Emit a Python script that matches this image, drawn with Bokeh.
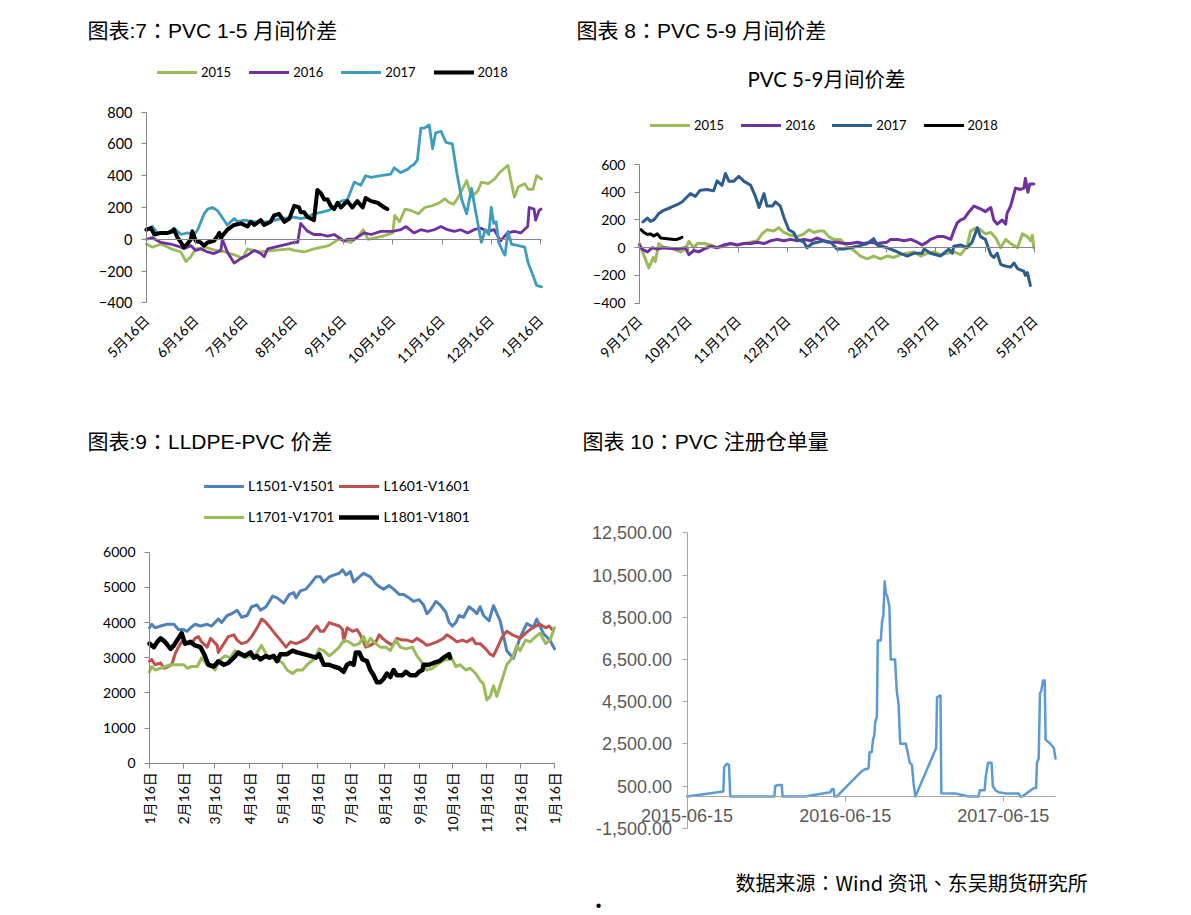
import math
from bokeh.plotting import figure
from bokeh.models import (Range1d, FixedTicker, LinearAxis, Legend, LegendItem, Label,
                          NumeralTickFormatter)
from bokeh.layouts import row, column
from bokeh.embed import file_html
from bokeh.resources import INLINE

# ---------------- data ----------------
# Chart 7: PVC 1-5 spread, x = months after 5/16
c1_labels = ["5月16日", "6月16日", "7月16日", "8月16日", "9月16日", "10月16日", "11月16日", "12月16日", "1月16日"]
c1_x15 = [0, 0.12, 0.3, 0.5, 0.7, 0.8, 0.9, 1.0, 1.2, 1.4, 1.6, 1.8, 1.95, 2.05, 2.3, 2.6, 2.9, 3.0, 3.2, 3.4,
          3.7, 3.9, 4.0, 4.15, 4.3, 4.4, 4.5, 4.8, 5.0, 5.04, 5.14, 5.25, 5.38, 5.52, 5.65, 5.79, 5.92, 6.06,
          6.13, 6.23, 6.29, 6.4, 6.5, 6.6, 6.73, 6.8, 6.94, 7.07, 7.17, 7.3, 7.34, 7.4, 7.47, 7.55, 7.68, 7.75,
          7.85, 7.92, 8.02]
c1_y15 = [-30, -50, -30, -60, -80, -140, -110, -60, -50, -70, -80, -100, -120, -60, -80, -70, -60, -70, -80, -60,
          -40, 0, -10, -20, 20, 60, 0, 20, 40, 150, 110, 190, 180, 160, 200, 210, 225, 255,
          235, 220, 245, 305, 370, 265, 305, 360, 350, 380, 420, 455, 465, 370, 265, 330, 350, 315,
          315, 400, 380]
c1_x16 = [0, 0.12, 0.29, 0.49, 0.7, 0.76, 0.9, 1.0, 1.1, 1.24, 1.37, 1.51, 1.54, 1.64, 1.78, 1.92, 2.05, 2.19, 2.32,
          2.39, 2.46, 2.73, 2.86, 3.0, 3.07, 3.13, 3.27, 3.4, 3.54, 3.68, 3.81, 4.01, 4.08, 4.22, 4.42, 4.56, 4.76,
          5.0, 5.16, 5.27, 5.43, 5.57, 5.71, 5.84, 5.98, 6.11, 6.25, 6.38, 6.52, 6.65, 6.79, 6.92, 7.06, 7.19, 7.33,
          7.47, 7.6, 7.74, 7.77, 7.87, 7.9, 7.97, 8.01]
c1_y16 = [0, 10, -20, -30, -50, -60, -40, -70, -60, -80, -90, -70, 0, -80, -150, -120, -100, -70, -90,
          -110, -60, -40, -30, -20, -20, 100, 50, 30, 30, 20, 30, -10, 0, 0, 40, 30, 50,
          50, 60, 80, 40, 60, 50, 60, 80, 60, 50, 60, 40, 60, 70, 50, 60, -10, 40,
          50, 40, 80, 200, 190, 120, 180, 190]
c1_x17 = [0, 0.12, 0.22, 0.43, 0.56, 0.7, 0.83, 0.97, 1.04, 1.17, 1.24, 1.34, 1.44, 1.51, 1.64, 1.78, 1.85, 1.98,
          2.19, 2.46, 2.73, 3.0, 3.13, 3.27, 3.4, 3.54, 3.68, 3.81, 3.95, 4.08, 4.22, 4.35, 4.45, 4.56, 4.76, 4.96,
          5.03, 5.16, 5.3, 5.37, 5.43, 5.5, 5.57, 5.64, 5.74, 5.81, 5.87, 5.98, 6.08, 6.21, 6.3, 6.4, 6.5, 6.6,
          6.68, 6.8, 6.88, 6.95, 7.0, 7.05, 7.1, 7.15, 7.24, 7.28, 7.34, 7.41, 7.55, 7.68, 7.75, 7.85, 7.92, 8.02]
c1_y17 = [60, 80, 40, 40, 70, 30, 40, 30, 60, 160, 190, 200, 180, 150, 90, 130, 110, 120,
          110, 110, 130, 140, 130, 140, 160, 170, 180, 200, 240, 250, 360, 340, 400, 390, 400, 410,
          450, 420, 440, 460, 470, 500, 700, 700, 720, 570, 670, 680, 610, 600, 420, 250, 160, 320,
          180, -20, 60, 30, 200, 100, 110, -20, -80, -100, 50, -30, -40, -50, -150, -230, -290, -300]
c1_x18 = [0, 0.09, 0.16, 0.29, 0.43, 0.53, 0.56, 0.63, 0.7, 0.76, 0.83, 0.9, 0.93, 1.0, 1.1, 1.17, 1.24, 1.37,
          1.44, 1.48, 1.51, 1.64, 1.78, 1.92, 2.05, 2.12, 2.19, 2.32, 2.39, 2.52, 2.59, 2.69, 2.8, 2.9, 3.0, 3.1,
          3.13, 3.2, 3.27, 3.4, 3.47, 3.54, 3.61, 3.68, 3.74, 3.81, 3.88, 3.95, 4.01, 4.08, 4.18, 4.28, 4.39,
          4.45, 4.56, 4.69, 4.83, 4.89]
c1_y18 = [60, 70, 30, 40, 40, 50, 60, 10, -20, -50, -30, 0, 50, -10, -20, -40, -20, -10,
          20, 40, 10, 60, 90, 100, 80, 110, 90, 120, 90, 110, 150, 160, 110, 130, 210, 200,
          170, 170, 140, 120, 310, 290, 250, 250, 210, 190, 230, 200, 220, 240, 200, 240, 200,
          260, 240, 230, 200, 190]

# Chart 8: PVC 5-9 spread, x = months after 9/17
c2_labels = ["9月17日", "10月17日", "11月17日", "12月17日", "1月17日", "2月17日", "3月17日", "4月17日", "5月17日"]
c2_x15 = [0, 0.09, 0.19, 0.28, 0.32, 0.39, 0.49, 0.7, 0.83, 0.93, 1.0, 1.1, 1.17, 1.3, 1.44, 1.57, 1.71, 1.84,
          1.98, 2.11, 2.25, 2.38, 2.48, 2.58, 2.72, 2.82, 2.92, 3.06, 3.19, 3.33, 3.43, 3.53, 3.63, 3.73, 3.83,
          3.93, 4.07, 4.2, 4.34, 4.47, 4.61, 4.74, 4.88, 5.01, 5.15, 5.28, 5.42, 5.55, 5.69, 5.82, 5.96, 6.09,
          6.23, 6.36, 6.5, 6.63, 6.7, 6.8, 6.9, 7.0, 7.11, 7.21, 7.31, 7.41, 7.51, 7.65, 7.75, 7.85, 7.92, 7.95, 7.98]
c2_y15 = [30, -55, -145, -70, -100, 30, 0, -10, -30, -10, 45, 0, 30, 30, 20, 0, 10, 30,
          20, 30, 40, 50, 100, 130, 120, 145, 110, 90, 80, 100, 130, 110, 120, 120, 80,
          60, 60, 10, -20, -60, -80, -60, -80, -60, -70, -50, -40, -30, -60, -40, -30, -50,
          -40, -30, -50, 10, 120, 140, 130, 100, 110, 70, 0, 60, 30, 0, 100, 80, 50, 90, 0]
c2_x16 = [0, 0.05, 0.16, 0.26, 0.36, 0.49, 0.76, 0.93, 1.0, 1.1, 1.2, 1.3, 1.44, 1.57, 1.71, 1.84, 1.98, 2.11,
          2.25, 2.38, 2.52, 2.65, 2.79, 2.92, 3.06, 3.19, 3.33, 3.46, 3.6, 3.8, 4.0, 4.14, 4.27, 4.41, 4.54, 4.68,
          4.81, 5.01, 5.08, 5.22, 5.35, 5.49, 5.62, 5.72, 5.82, 5.89, 6.03, 6.16, 6.3, 6.36, 6.43, 6.5, 6.57,
          6.67, 6.77, 6.9, 7.0, 7.11, 7.17, 7.24, 7.34, 7.41, 7.44, 7.51, 7.61, 7.71, 7.78, 7.81, 7.86, 7.9, 7.98]
c2_y16 = [20, -10, -30, 0, -10, 0, -10, 0, -50, -20, -30, -10, 10, 0, 20, 30, 20, 30,
          30, 40, 30, 50, 60, 50, 60, 50, 60, 50, 70, 40, 40, 30, 30, 40, 30, 40,
          30, 40, 60, 60, 50, 60, 40, 20, 40, 60, 80, 80, 60, 120, 180, 200, 210,
          260, 300, 280, 260, 290, 200, 170, 200, 170, 250, 300, 430, 420, 430, 500, 400, 460, 460]
c2_x17 = [0.07, 0.16, 0.22, 0.29, 0.39, 0.49, 0.63, 0.76, 0.86, 0.96, 1.03, 1.13, 1.23, 1.37, 1.5, 1.57, 1.67,
          1.74, 1.81, 1.91, 2.01, 2.11, 2.25, 2.35, 2.42, 2.52, 2.58, 2.69, 2.75, 2.85, 2.92, 3.02, 3.12, 3.19,
          3.33, 3.39, 3.5, 3.6, 3.73, 3.87, 4.0, 4.14, 4.27, 4.41, 4.61, 4.74, 4.81, 5.01, 5.15, 5.28, 5.42,
          5.55, 5.72, 5.76, 5.89, 6.09, 6.16, 6.26, 6.33, 6.36, 6.5, 6.63, 6.73, 6.84, 6.9, 7.0, 7.11, 7.17,
          7.24, 7.31, 7.38, 7.51, 7.58, 7.65, 7.78, 7.81, 7.85, 7.91]
c2_y17 = [186, 214, 190, 200, 246, 270, 290, 310, 330, 366, 390, 370, 415, 420, 410, 482, 450,
          535, 480, 480, 515, 480, 450, 366, 290, 390, 300, 300, 330, 300, 222, 130, 110, 60,
          40, 0, 30, 40, 50, 40, -10, -10, 0, 10, 30, 65, 20, 0, -20, -40, -60,
          -40, -40, -10, -40, -60, -40, -10, -40, 10, 20, 0, 40, 145, 80, 60, -50, -70,
          -40, -120, -130, -140, -110, -150, -170, -200, -180, -272]
c2_x18 = [0.03, 0.09, 0.16, 0.22, 0.29, 0.36, 0.43, 0.56, 0.7, 0.76, 0.83, 0.86]
c2_y18 = [130, 110, 95, 100, 85, 100, 70, 65, 60, 60, 70, 75]

# Chart 9: LLDPE-PVC spread, x = days after 1/16
c3_tick_days = [0, 31, 59, 90, 120, 151, 181, 212, 243, 273, 304, 334, 365]
c3_labels = ["1月16日", "2月16日", "3月16日", "4月16日", "5月16日", "6月16日", "7月16日", "8月16日",
             "9月16日", "10月16日", "11月16日", "12月16日", "1月16日"]
c3_x1501 = [0, 2, 5, 10, 16, 22, 26, 31, 34, 37, 41, 46, 52, 56, 59, 62, 65, 70, 74, 79, 83, 88, 92, 97, 100,
            105, 111, 115, 121, 126, 130, 132, 136, 141, 145, 150, 154, 157, 162, 166, 171, 174, 177, 181, 184,
            189, 193, 199, 204, 208, 211, 216, 220, 225, 229, 234, 238, 243, 247, 250, 253, 258, 262, 267, 270,
            273, 276, 279, 283, 288, 292, 295, 298, 301, 306, 310, 316, 322, 328, 334, 340, 346, 349, 355,
            361, 365]
c3_y1501 = [3850, 3950, 3850, 3900, 3950, 3950, 3800, 3800, 3750, 3850, 3950, 3900, 3950, 3900, 4000, 4100,
            4000, 4200, 4250, 4350, 4150, 4200, 4450, 4500, 4350, 4450, 4750, 4700, 4550, 4800, 4850, 4700,
            4900, 4950, 5100, 5300, 5300, 5150, 5300, 5350, 5400, 5500, 5350, 5450, 5150, 5300, 5400, 5300,
            5100, 5000, 4950, 5050, 4950, 4800, 4800, 4700, 4600, 4650, 4500, 4250, 4350, 4600, 4500, 4300,
            4000, 3900, 4000, 4200, 4150, 4450, 4350, 4250, 4450, 4200, 4050, 4480, 4050, 3200, 2980, 3580,
            3970, 3870, 4100, 3690, 3490, 3250]
c3_x1601 = [0, 2, 5, 10, 13, 17, 20, 23, 26, 29, 34, 38, 41, 44, 47, 52, 55, 58, 61, 62, 67, 71, 76, 79, 83,
            88, 92, 97, 101, 105, 109, 114, 118, 123, 127, 132, 136, 142, 148, 151, 154, 157, 162, 166, 171,
            174, 175, 178, 183, 187, 190, 195, 199, 204, 207, 210, 214, 219, 223, 228, 232, 237, 241, 246, 250,
            255, 259, 265, 268, 273, 277, 282, 286, 291, 294, 298, 303, 307, 310, 313, 318, 322, 327, 331, 334,
            339, 343, 348, 352, 357, 360, 363]
c3_y1601 = [2900, 2950, 2800, 2850, 2700, 2750, 2800, 3100, 3300, 3450, 3400, 3400, 3550, 3600, 3450, 3300,
            3550, 3450, 3350, 3150, 3400, 3600, 3650, 3500, 3400, 3450, 3600, 3850, 4100, 4000, 3850, 3650,
            3500, 3300, 3450, 3400, 3450, 3550, 3800, 3900, 3750, 3750, 4000, 3950, 3900, 3800, 3450, 3850,
            3750, 3800, 3650, 3300, 3350, 3450, 3650, 3550, 3450, 3350, 3550, 3500, 3500, 3450, 3550, 3450,
            3350, 3400, 3450, 3550, 3650, 3550, 3450, 3500, 3450, 3550, 3400, 3400, 3250, 3100, 3050, 3250,
            3600, 3750, 3650, 3600, 3550, 3700, 3800, 3900, 3950, 3850, 3900, 3800]
c3_x1701 = [0, 2, 5, 10, 14, 19, 25, 31, 34, 38, 43, 47, 52, 56, 59, 64, 68, 73, 77, 82, 86, 91, 95, 101, 106,
            111, 115, 120, 124, 129, 133, 138, 142, 148, 153, 157, 162, 166, 171, 175, 180, 184, 189, 193, 196,
            199, 204, 208, 213, 217, 222, 226, 231, 237, 241, 246, 250, 255, 259, 264, 268, 273, 276, 280, 285,
            289, 294, 298, 301, 304, 307, 310, 313, 318, 322, 327, 331, 334, 339, 343, 348, 352, 357, 361, 365]
c3_y1701 = [2600, 2750, 2650, 2700, 2750, 2800, 2800, 2800, 2700, 2750, 2750, 3000, 2800, 2750, 2650, 2950,
            3050, 3000, 3200, 3050, 3000, 3050, 3050, 3350, 3050, 3000, 2950, 2850, 2650, 2550, 2650, 2650,
            2800, 2950, 3250, 3200, 3050, 3150, 3300, 3500, 3450, 3350, 3400, 3600, 3350, 3550, 3400, 3300,
            3300, 3200, 3500, 3300, 3250, 3300, 3050, 2850, 2650, 2700, 2800, 2900, 2950, 2950, 2750, 2800,
            2650, 2700, 2550, 2350, 2250, 1800, 1900, 2200, 1900, 2400, 2800, 3000, 3350, 3200, 3500, 3450,
            3600, 3700, 3400, 3500, 3850]
c3_x1801 = [0, 2, 4, 7, 10, 14, 19, 22, 25, 28, 29, 32, 37, 41, 46, 50, 53, 58, 62, 67, 71, 76, 80, 83, 86,
            91, 94, 97, 100, 105, 108, 112, 115, 118, 124, 129, 133, 139, 145, 150, 153, 157, 162, 166, 171,
            175, 178, 181, 184, 186, 189, 192, 196, 199, 202, 205, 208, 211, 214, 217, 220, 223, 228, 231, 235,
            240, 243, 246, 247, 252, 256, 261, 265, 270, 271]
c3_y1801 = [3400, 3350, 3300, 3450, 3550, 3450, 3250, 3350, 3500, 3650, 3700, 3400, 3450, 3350, 3300, 3050,
            2800, 2750, 2900, 2800, 2850, 3000, 3150, 3100, 3050, 3150, 3000, 3050, 2950, 3050, 3000, 3050,
            2900, 3100, 3100, 3200, 3150, 3100, 3050, 3000, 3100, 2800, 2800, 2750, 2700, 2600, 2800, 2850,
            2800, 3150, 3150, 2950, 2900, 2650, 2500, 2300, 2300, 2400, 2550, 2450, 2650, 2500, 2500, 2600,
            2500, 2500, 2600, 2650, 2800, 2800, 2850, 2900, 3000, 3100, 3000]

# Chart 10: PVC warehouse receipts, x = days after 2015-06-15
c4_tick_days = [0, 366, 731]
c4_labels = ["2015-06-15", "2016-06-15", "2017-06-15"]
c4_x = [0, 84, 86, 92, 97, 100, 202, 204, 211, 219, 221, 273, 331, 335, 339, 341, 346, 404, 412, 418, 420,
        422, 427, 430, 433, 435, 439, 441, 448, 451, 454, 457, 460, 463, 468, 471, 481, 485, 489, 493, 506,
        511, 515, 520, 524, 528, 576, 578, 586, 588, 620, 651, 674, 677, 688, 691, 696, 704, 707, 713, 721,
        736, 767, 771, 775, 802, 807, 809, 813, 816, 819, 823, 827, 829, 840, 848, 852]
c4_y = [0, 240, 1400, 1550, 1500, 0, 0, 500, 550, 550, 0, 0, 200, 350, 350, 0, 0, 1200, 1300, 1300, 1400,
        2100, 2100, 2700, 2900, 3500, 3800, 7400, 7400, 8300, 8600, 10200, 9600, 9500, 9000, 6500, 6500, 5000,
        4400, 2500, 2500, 2000, 1600, 1500, 600, 0, 2300, 4700, 4800, 160, 150, 0, 0, 300, 300, 1000, 1600,
        1600, 500, 300, 200, 150, 150, 0, 0, 400, 400, 1600, 1800, 4900, 5000, 5500, 5500, 2700, 2500, 2300, 1800]

# ---------------- styling ----------------
LAT = "Lato, 'Noto Sans CJK SC', sans-serif"
ARIAL = "'Liberation Sans', 'Noto Sans CJK TC', sans-serif"
CJK = "'Noto Sans CJK TC', sans-serif"
AX = "#868686"
GREEN, PURPLE, TEAL, NAVY = "#9BBB59", "#7030A0", "#3C9DBE", "#2E5C8E"
BLUE, RED = "#4F81BD", "#C0504D"


def pair(x, y):
    n = min(len(x), len(y))
    return list(x[:n]), list(y[:n])


class Panel:
    """A figure whose frame is its whole canvas; page pixel anchors fix the scales."""

    def __init__(self, cx, cy, w, h, xanchor, yanchor):
        self.cx, self.cy, self.w, self.h = cx, cy, w, h
        xv1, xp1, xv2, xp2 = xanchor
        sx = (xp2 - xp1) / (xv2 - xv1)
        x0 = xv1 + (cx - xp1) / sx
        x1 = xv1 + (cx + w - xp1) / sx
        yv1, yp1, yv2, yp2 = yanchor
        sy = (yp2 - yp1) / (yv2 - yv1)
        ytop = yv1 + (cy - yp1) / sy
        ybot = yv1 + (cy + h - yp1) / sy
        p = figure(width=w, height=h, x_range=Range1d(x0, x1), y_range=Range1d(ybot, ytop),
                   min_border=0, title=None, output_backend="svg", toolbar_location=None)
        p.outline_line_color = None
        p.xgrid.visible = False
        p.ygrid.visible = False
        p.background_fill_color = "white"
        p.border_fill_color = "white"
        self.p = p

    def sx(self, X):
        return X - self.cx

    def sy(self, Y):
        return self.cy + self.h - Y

    def text(self, X, Y, s, size, font, align="left", color="#000000"):
        self.p.add_layout(Label(x=self.sx(X), y=self.sy(Y), x_units="screen", y_units="screen", text=s,
                                text_font=font, text_font_size=size, text_color=color,
                                text_align=align, text_baseline="middle"))

    def legend(self, items, X, Ybottom, size, spacing, gh=14):
        lg = Legend(items=[LegendItem(label=l, renderers=[r]) for l, r in items],
                    orientation="horizontal", location=(self.sx(X), self.sy(Ybottom)),
                    padding=0, margin=0, spacing=spacing,
                    glyph_width=40, glyph_height=gh, label_height=gh, label_standoff=4,
                    border_line_color=None, background_fill_alpha=0,
                    label_text_font=LAT, label_text_font_size=size, label_text_color="#000000")
        self.p.add_layout(lg)

    def line(self, x, y, color, width):
        xx, yy = pair(x, y)
        return self.p.line(xx, yy, line_color=color, line_width=width, line_join="round", line_cap="round")


def style_axis(ax, ticks, loc, bounds, size="14px", font=LAT, color="#000000", axcol=AX, standoff=9,
               line=True, tick=True):
    ax.fixed_location = loc
    ax.bounds = bounds
    ax.ticker = FixedTicker(ticks=ticks)
    ax.axis_line_color = axcol if line else None
    ax.major_tick_line_color = axcol if tick else None
    ax.minor_tick_line_color = None
    ax.major_tick_in = 0
    ax.major_tick_out = 5 if tick else 0
    ax.major_label_standoff = standoff
    ax.major_label_text_font = font
    ax.major_label_text_font_size = size
    ax.major_label_text_color = color


def month_axes(p, labels, ymin, xend):
    ticks = list(range(len(labels)))
    xa = p.xaxis[0]
    style_axis(xa, ticks, ymin, (0, xend), standoff=15, line=False, tick=False)
    xa.major_label_overrides = {i: s for i, s in enumerate(labels)}
    xa.major_label_orientation = math.pi / 4
    za = LinearAxis()
    style_axis(za, ticks, 0, (0, xend))
    za.major_label_overrides = {i: "" for i in ticks}
    p.add_layout(za, "below")


# ---------------- chart 7 ----------------
P1 = Panel(0, 0, 570, 415, (0, 146, 8, 540), (800, 111.7, -400, 302.3))
p1 = P1.p
style_axis(p1.yaxis[0], list(range(-400, 801, 200)), 0, (-400, 800), size="14.5px")
month_axes(p1, c1_labels, -400, 8.02)
r15 = P1.line(c1_x15, c1_y15, GREEN, 2.8)
r16 = P1.line(c1_x16, c1_y16, PURPLE, 2.8)
r17 = P1.line(c1_x17, c1_y17, TEAL, 2.8)
r18 = P1.line(c1_x18, c1_y18, "#000000", 4)
P1.legend([("2015", r15), ("2016", r16), ("2017", r17), ("2018", r18)], 157, 80, "13px", 18)
P1.text(87, 30, "图表:7：PVC 1-5 月间价差", "21px", ARIAL)

# ---------------- chart 8 ----------------
P2 = Panel(570, 0, 605, 415, (0, 639, 8, 1034.3), (600, 164, -400, 302.7))
p2 = P2.p
style_axis(p2.yaxis[0], list(range(-400, 601, 200)), 0, (-400, 600))
month_axes(p2, c2_labels, -400, 8.0)
s15 = P2.line(c2_x15, c2_y15, GREEN, 3)
s16 = P2.line(c2_x16, c2_y16, PURPLE, 3)
s17 = P2.line(c2_x17, c2_y17, NAVY, 3)
s18 = P2.line(c2_x18, c2_y18, "#000000", 3)
P2.legend([("2015", s15), ("2016", s16), ("2017", s17), ("2018", s18)], 650, 133, "13px", 17)
P2.text(576, 30, "图表 8：PVC 5-9 月间价差", "21px", ARIAL)
P2.text(826, 78, "PVC 5-9月间价差", "20.5px", LAT, align="center")

# ---------------- chart 9 ----------------
P3 = Panel(0, 415, 570, 498, (0, 149, 365, 554), (6000, 551.7, 0, 762.7))
p3 = P3.p
style_axis(p3.yaxis[0], list(range(0, 6001, 1000)), 0, (0, 6000))
xa = p3.xaxis[0]
style_axis(xa, c3_tick_days, 0, (0, 365), standoff=4)
xa.major_label_overrides = {d: s for d, s in zip(c3_tick_days, c3_labels)}
xa.major_label_orientation = math.pi / 2
t1 = P3.line(c3_x1501, c3_y1501, BLUE, 3)
t2 = P3.line(c3_x1601, c3_y1601, RED, 3)
t3 = P3.line(c3_x1701, c3_y1701, GREEN, 3)
t4 = P3.line(c3_x1801, c3_y1801, "#000000", 4.5)
P3.legend([("L1501-V1501", t1), ("L1601-V1601", t2)], 204, 494, "14px", 5, gh=16)
P3.legend([("L1701-V1701", t3), ("L1801-V1801", t4)], 204, 525, "14px", 5, gh=16)
P3.text(87, 441, "图表:9：LLDPE-PVC 价差", "21px", ARIAL)

# ---------------- chart 10 ----------------
P4 = Panel(570, 415, 605, 498, (0, 686.5, 731, 1002.7), (12500, 532.3, -1500, 827.7))
p4 = P4.p
G4 = "#A6A6A6"
style_axis(p4.yaxis[0], list(range(-1500, 12501, 2000)), 0, (-1500, 12500), size="18px", font=ARIAL,
           color="#595959", axcol=G4, standoff=10)
p4.yaxis[0].formatter = NumeralTickFormatter(format="0,0.00")
xa4 = p4.xaxis[0]
style_axis(xa4, c4_tick_days, 0, (0, 852), size="18px", font=ARIAL, color="#595959", axcol=G4, standoff=7)
xa4.major_label_overrides = {d: s for d, s in zip(c4_tick_days, c4_labels)}
P4.line(c4_x, c4_y, "#5B9BD5", 2.5)
P4.text(582, 441, "图表 10：PVC 注册仓单量", "21px", ARIAL)
P4.text(735, 882, "数据来源：Wind 资讯、东吴期货研究所", "20px", CJK)
P4.text(598, 905, "•", "16px", ARIAL, align="center")

layout = column(row(p1, p2), row(p3, p4))
open("out.html", "w").write(file_html(layout, INLINE))
